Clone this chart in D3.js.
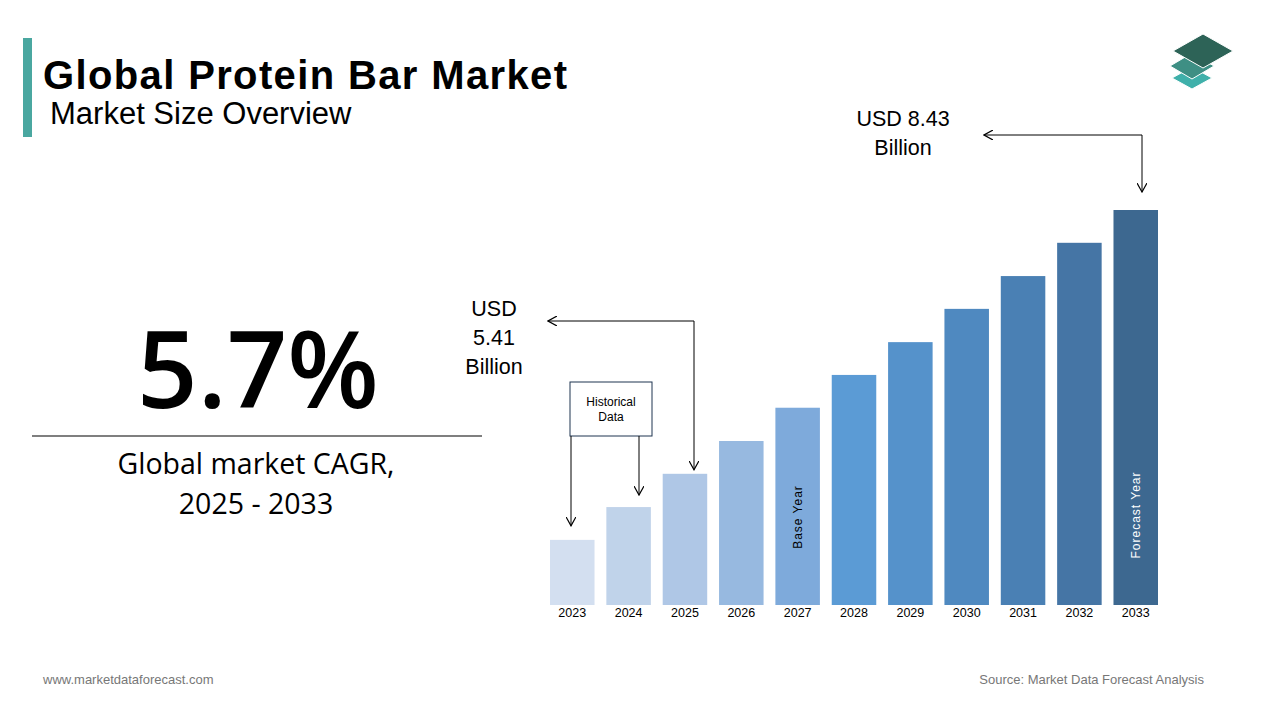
<!DOCTYPE html>
<html><head><meta charset="utf-8">
<script src="https://cdn.jsdelivr.net/npm/d3@7"></script>
<style>body{margin:0;background:#fff}svg{display:block}</style>
</head><body>
<script>
const years = ["2023","2024","2025","2026","2027","2028","2029","2030","2031","2032","2033"];
const values = [1.39,2.09,2.80,3.50,4.21,4.91,5.61,6.32,7.02,7.73,8.43];
const colors = ["#d3dff0","#c0d3ea","#afc7e6","#97b9e0","#7eaadb","#5b9bd5","#5592cb","#4f89c0","#4a80b4","#4575a5","#3d6890"];

const svg = d3.select("body").append("svg").attr("width",1280).attr("height",720);
const F = "Arial, 'Liberation Sans', sans-serif";
svg.append("defs").html('<marker id="ah" viewBox="0 0 10 10" refX="9" refY="5" markerWidth="10" markerHeight="10" orient="auto-start-reverse" markerUnits="userSpaceOnUse"><path d="M0,0 L9,5 L0,10" fill="none" stroke="#000" stroke-width="1.2"/></marker>');

// header
svg.append("rect").attr("x",23).attr("y",38).attr("width",9).attr("height",99).attr("fill","#4aa7a0");
svg.append("text").attr("x",43).attr("y",89).attr("font-family",F).attr("font-weight","bold").attr("font-size",40).attr("textLength",524).text("Global Protein Bar Market");
svg.append("text").attr("x",50).attr("y",124).attr("font-family",F).attr("font-size",31).text("Market Size Overview");

// logo
const lg = svg.append("g");
[[1192,78,"#3fb0aa",20,11],[1192,66,"#3e8f84",22,13],[1203,51,"#2d6357",30,17]].forEach(([cx,cy,c,w,h])=>{
  lg.append("path").attr("d",`M${cx-w},${cy} L${cx},${cy-h} L${cx+w},${cy} L${cx},${cy+h} Z`).attr("fill",c).attr("stroke","#fff").attr("stroke-width",1);
});

// CAGR
svg.append("text").attr("x",258).attr("y",408).attr("text-anchor","middle").attr("font-family","'Open Sans', sans-serif").attr("font-weight","600").attr("font-size",106).text("5.7%");
svg.append("line").attr("x1",32).attr("x2",482).attr("y1",436).attr("y2",436).attr("stroke","#000").attr("stroke-width",1.2);
svg.append("text").attr("x",256).attr("y",474).attr("text-anchor","middle").attr("font-family","'Open Sans', sans-serif").attr("font-size",28.5).text("Global market CAGR,");
svg.append("text").attr("x",256).attr("y",514).attr("text-anchor","middle").attr("font-family","'Open Sans', sans-serif").attr("font-size",28.5).text("2025 - 2033");

// bars
const x = d3.scaleBand().domain(years).range([550,1158]).paddingInner(0.21).paddingOuter(0);
const y = d3.scaleLinear().domain([0,8.43]).range([605,210]);
svg.selectAll("rect.bar").data(years).enter().append("rect").attr("class","bar")
  .attr("x",d=>x(d)).attr("width",x.bandwidth())
  .attr("y",(d,i)=>y(values[i])).attr("height",(d,i)=>y(0)-y(values[i]))
  .attr("fill",(d,i)=>colors[i]);
const ax = svg.append("g").attr("transform","translate(0,605)").call(d3.axisBottom(x).tickSize(0).tickPadding(3));
ax.select(".domain").remove();
ax.selectAll("text").attr("font-family",F).attr("font-size",12.5).attr("fill","#000");

const cx = d=>x(d)+x.bandwidth()/2;
svg.append("text").attr("transform",`translate(${cx("2027")+4},517) rotate(-90)`).attr("text-anchor","middle").attr("font-family",F).attr("font-size",12).attr("letter-spacing",1).text("Base Year");
svg.append("text").attr("transform",`translate(${cx("2033")+4},515) rotate(-90)`).attr("text-anchor","middle").attr("font-family",F).attr("font-size",12).attr("fill","#fff").attr("letter-spacing",1).text("Forecast Year");

// historical box
svg.append("rect").attr("x",570).attr("y",382).attr("width",82).attr("height",54).attr("fill","#fff").attr("stroke","#1f3550").attr("stroke-width",1);
svg.append("text").attr("x",611).attr("y",406).attr("text-anchor","middle").attr("font-family",F).attr("font-size",12).text("Historical");
svg.append("text").attr("x",611).attr("y",421).attr("text-anchor","middle").attr("font-family",F).attr("font-size",12).text("Data");
const arrow = (d)=>svg.append("path").attr("d",d).attr("fill","none").attr("stroke","#000").attr("stroke-width",1).attr("marker-end","url(#ah)");
arrow(`M571,436 L571,${y(values[0])-14}`);
arrow(`M639,436 L639,${y(values[1])-12}`);
arrow(`M694,321 L548,321`);
arrow(`M694,321 L694,${y(values[2])-4}`);
arrow(`M1142,135 L984,135`);
arrow(`M1142,135 L1142,${y(values[10])-18}`);

[["USD",316],["5.41",345],["Billion",374]].forEach(([t,yy])=>svg.append("text").attr("x",494).attr("y",yy).attr("text-anchor","middle").attr("font-family",F).attr("font-size",21.5).text(t));
[["USD 8.43",126],["Billion",155]].forEach(([t,yy])=>svg.append("text").attr("x",903).attr("y",yy).attr("text-anchor","middle").attr("font-family",F).attr("font-size",21.5).text(t));

svg.append("text").attr("x",43).attr("y",684).attr("font-family",F).attr("font-size",13).attr("fill","#777").text("www.marketdataforecast.com");
svg.append("text").attr("x",1204).attr("y",684).attr("text-anchor","end").attr("font-family",F).attr("font-size",13).attr("fill","#777").text("Source: Market Data Forecast Analysis");
</script>
</body></html>
